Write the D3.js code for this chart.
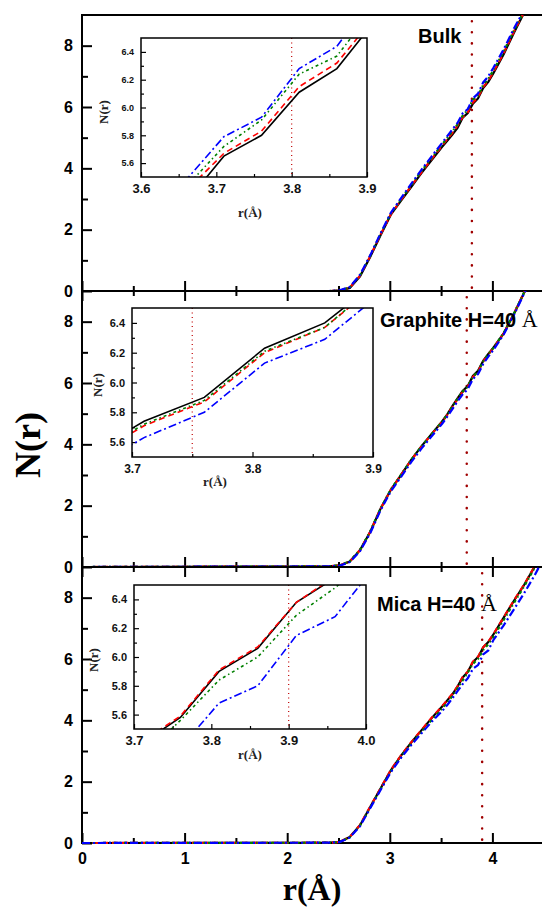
<!DOCTYPE html>
<html>
<head>
<meta charset="utf-8">
<script src="https://cdn.jsdelivr.net/npm/d3@7"></script>
<style>
body { margin: 0; background: #fff; }
svg { display: block; }
</style>
</head>
<body>
<div id="chart"></div>
<script>
let width = 542;
let height = 908;

// r grid shared by all curves (finer where the insets zoom in)
const rVals = [0, 2.41, 2.51, 2.61, 2.71, 2.81, 2.91, 3.01, 3.11, 3.21, 3.31, 3.41, 3.51, 3.56, 3.61,
  3.66, 3.71, 3.76, 3.81, 3.86, 3.91, 3.96, 4.01, 4.11, 4.21, 4.31, 4.41, 4.51];

const bulkSolid    = [0, 0, 0.01, 0.10, 0.48, 1.12, 1.82, 2.49, 2.95, 3.40, 3.85, 4.28, 4.70, 4.90, 5.10, 5.32, 5.65, 5.80, 6.11, 6.28, 6.62, 6.82, 7.10, 7.72, 8.42, 9.08, 9.70, 10.3];
const bulkDash     = [0, 0, 0.01, 0.11, 0.50, 1.14, 1.84, 2.50, 2.97, 3.43, 3.88, 4.31, 4.74, 4.95, 5.16, 5.40, 5.67, 5.83, 6.15, 6.32, 6.65, 6.86, 7.14, 7.76, 8.46, 9.10, 9.72, 10.3];
const bulkDot      = [0, 0, 0.01, 0.12, 0.51, 1.15, 1.86, 2.52, 3.00, 3.46, 3.92, 4.35, 4.78, 4.99, 5.21, 5.43, 5.72, 5.91, 6.24, 6.37, 6.72, 6.92, 7.20, 7.81, 8.50, 9.13, 9.74, 10.3];
const bulkDashDot  = [0, 0, 0.02, 0.13, 0.53, 1.17, 1.88, 2.55, 3.03, 3.50, 3.96, 4.40, 4.83, 5.05, 5.27, 5.48, 5.79, 5.93, 6.28, 6.44, 6.80, 7.00, 7.28, 7.88, 8.56, 9.17, 9.76, 10.3];

const graphiteSolid   = [0, 0.02, 0.05, 0.18, 0.55, 1.15, 1.90, 2.52, 3.00, 3.50, 3.94, 4.35, 4.75, 4.98, 5.25, 5.50, 5.74, 5.90, 6.23, 6.40, 6.72, 6.95, 7.15, 7.62, 8.25, 8.95, 9.60, 10.2];
const graphiteDash    = [0, 0.02, 0.05, 0.18, 0.56, 1.16, 1.90, 2.52, 3.00, 3.49, 3.93, 4.34, 4.73, 4.96, 5.22, 5.47, 5.71, 5.87, 6.20, 6.37, 6.70, 6.93, 7.14, 7.62, 8.26, 8.96, 9.60, 10.2];
const graphiteDot     = [0, 0.02, 0.05, 0.19, 0.56, 1.17, 1.91, 2.53, 3.01, 3.50, 3.94, 4.34, 4.74, 4.97, 5.23, 5.48, 5.72, 5.88, 6.21, 6.37, 6.71, 6.94, 7.15, 7.63, 8.27, 8.96, 9.60, 10.2];
const graphiteDashDot = [0, 0.02, 0.04, 0.16, 0.52, 1.11, 1.85, 2.47, 2.94, 3.43, 3.87, 4.27, 4.67, 4.90, 5.15, 5.40, 5.63, 5.80, 6.13, 6.29, 6.62, 6.86, 7.08, 7.58, 8.22, 8.92, 9.58, 10.2];

const micaSolid   = [0, 0.01, 0.03, 0.20, 0.58, 1.18, 1.78, 2.37, 2.85, 3.28, 3.68, 4.08, 4.45, 4.65, 4.85, 5.10, 5.40, 5.58, 5.90, 6.06, 6.38, 6.55, 6.80, 7.35, 7.90, 8.42, 9.00, 9.60];
const micaDash    = [0, 0.01, 0.03, 0.20, 0.59, 1.19, 1.79, 2.38, 2.86, 3.29, 3.69, 4.09, 4.46, 4.66, 4.86, 5.11, 5.41, 5.59, 5.91, 6.07, 6.38, 6.56, 6.81, 7.36, 7.91, 8.43, 9.01, 9.60];
const micaDot     = [0, 0.01, 0.03, 0.19, 0.57, 1.16, 1.76, 2.34, 2.82, 3.24, 3.63, 4.02, 4.38, 4.58, 4.79, 5.04, 5.30, 5.56, 5.84, 6.00, 6.29, 6.48, 6.72, 7.27, 7.83, 8.37, 8.96, 9.58];
const micaDashDot = [0, 0.01, 0.03, 0.18, 0.55, 1.14, 1.73, 2.31, 2.78, 3.20, 3.58, 3.96, 4.30, 4.50, 4.72, 4.95, 5.18, 5.37, 5.68, 5.80, 6.15, 6.28, 6.62, 7.10, 7.62, 8.15, 8.72, 9.35];

const panelNames = ["Bulk", "Graphite H=40 ", "Mica H=40 "];
const cutoffs = [3.8, 3.75, 3.9];
const xTicks = [0, 1, 2, 3, 4];
const xMinor = [0.5, 1.5, 2.5, 3.5];
const yTicks = [0, 2, 4, 6, 8];
const yMinor = [1, 3, 5, 7];
const insetXTicks = [[3.6, 3.7, 3.8, 3.9], [3.7, 3.8, 3.9], [3.7, 3.8, 3.9, 4.0]];
const insetYTicks = [5.6, 5.8, 6.0, 6.2, 6.4];
const insetYMinor = [5.7, 5.9, 6.1, 6.3];

const panelData = [
  [bulkSolid, bulkDash, bulkDot, bulkDashDot],
  [graphiteSolid, graphiteDash, graphiteDot, graphiteDashDot],
  [micaSolid, micaDash, micaDot, micaDashDot]
];

// styles for the four curves: solid black, dashed red, short dash-dot green, dash-dot blue
const lineStyles = [
  {color: "#000000", dash: null},
  {color: "#ff0000", dash: "6,4"},
  {color: "#008000", dash: "3,3,1.5,3"},
  {color: "#0000ff", dash: "8,3,2,3"}
];

const panelTops = [15, 291, 567];
const panelH = 276;
const left = 82;

// layout of the insets and their labels
const insets = [
  {x0: 141, x1: 367, y0: 38, y1: 177, xDomain: [3.6, 3.9], yFont: 9, xFont: 13, nx: 108, ny: 112, rx: 250, ry: 217},
  {x0: 132, x1: 373, y0: 308, y1: 457, xDomain: [3.7, 3.9], yFont: 11, xFont: 12, nx: 102, ny: 385, rx: 215, ry: 486},
  {x0: 134, x1: 366, y0: 585, y1: 729, xDomain: [3.7, 4.0], yFont: 11, xFont: 13, nx: 98, ny: 660, rx: 250, ry: 759}
];
const labelPos = [{x: 418, y: 43}, {x: 380, y: 327}, {x: 377, y: 611}];

const svg = d3.select("#chart").append("svg")
    .attr("width", width)
    .attr("height", height)
    .attr("viewBox", [0, 0, width, height]);

const defs = svg.append("defs");

let x = d3.scaleLinear().domain([0, 4.5]).range([left, left + 4.5 * 102.6]);

const sans = "'Liberation Sans', Arial, sans-serif";
const serif = "'Liberation Serif', 'Times New Roman', serif";

panelData.forEach((series, p) => {
  const top = panelTops[p];
  const bottom = top + panelH;
  let y = d3.scaleLinear().domain([0, 9]).range([bottom, top]);
  const g = svg.append("g");

  defs.append("clipPath").attr("id", "clip" + p)
    .append("rect")
    .attr("x", left).attr("y", top)
    .attr("width", width - left).attr("height", panelH + 3);

  // bottom axis (ticks pointing up)
  const xAx = g.append("g").attr("transform", `translate(0,${bottom})`)
      .call(d3.axisBottom(x).tickValues(xTicks).tickSize(-10).tickPadding(10)
        .tickFormat(p === 2 ? d3.format("d") : () => ""));
  xAx.select(".domain").remove();
  g.append("g").attr("transform", `translate(0,${bottom})`)
      .call(d3.axisBottom(x).tickValues(xMinor).tickSize(-5).tickFormat(() => ""))
      .select(".domain").remove();

  // top axis ticks for the lower panels (pointing down)
  if (p > 0) {
    g.append("g").attr("transform", `translate(0,${top})`)
        .call(d3.axisTop(x).tickValues(xTicks).tickSize(-10).tickFormat(() => ""))
        .select(".domain").remove();
    g.append("g").attr("transform", `translate(0,${top})`)
        .call(d3.axisTop(x).tickValues(xMinor).tickSize(-5).tickFormat(() => ""))
        .select(".domain").remove();
  }

  const yAx = g.append("g").attr("transform", `translate(${left},0)`)
      .call(d3.axisLeft(y).tickValues(yTicks).tickSize(-10).tickPadding(9).tickFormat(d3.format("d")));
  yAx.select(".domain").remove();
  g.append("g").attr("transform", `translate(${left},0)`)
      .call(d3.axisLeft(y).tickValues(yMinor).tickSize(-6).tickFormat(() => ""))
      .select(".domain").remove();

  g.selectAll(".tick line").attr("stroke", "#000").attr("stroke-width", 2);
  g.selectAll(".tick text")
      .attr("font-family", sans).attr("font-weight", "bold")
      .attr("font-size", 16).attr("fill", "#000");

  // frame lines
  g.append("line").attr("x1", left).attr("x2", width).attr("y1", bottom).attr("y2", bottom)
      .attr("stroke", "#000").attr("stroke-width", 2);
  g.append("line").attr("x1", left).attr("x2", width).attr("y1", top).attr("y2", top)
      .attr("stroke", "#000").attr("stroke-width", 2);
  g.append("line").attr("x1", left).attr("x2", left).attr("y1", top - 1).attr("y2", bottom + 1)
      .attr("stroke", "#000").attr("stroke-width", 2);

  // cut-off line
  g.append("line")
      .attr("x1", x(cutoffs[p])).attr("x2", x(cutoffs[p]))
      .attr("y1", y(8.8)).attr("y2", y(0))
      .attr("stroke", "#a00000").attr("stroke-width", 2.5)
      .attr("stroke-linecap", "round")
      .attr("stroke-dasharray", "0.1,11");

  const line = d3.line().x((d, i) => x(rVals[i])).y(d => y(d));
  const curves = g.append("g").attr("clip-path", `url(#clip${p})`);
  series.forEach((vals, s) => {
    curves.append("path")
        .datum(vals)
        .attr("d", line)
        .attr("fill", "none")
        .attr("stroke", lineStyles[s].color)
        .attr("stroke-width", 2.2)
        .attr("stroke-dasharray", lineStyles[s].dash);
  });

  // panel label
  const lab = g.append("text")
      .attr("x", labelPos[p].x).attr("y", labelPos[p].y)
      .attr("font-family", sans).attr("font-weight", "bold")
      .attr("font-size", 20).attr("fill", "#000")
      .text(panelNames[p]);
  if (p > 0) {
    lab.append("tspan").attr("font-family", serif).attr("font-weight", "normal")
        .attr("font-size", 22).text("Å");
  }

  drawInset(g, insets[p], series, insetXTicks[p], cutoffs[p], p);
});

function drawInset(g, cfg, series, ticks, cut, p) {
  const ix = d3.scaleLinear().domain(cfg.xDomain).range([cfg.x0, cfg.x1]);
  const iy = d3.scaleLinear().domain([5.5, 6.5]).range([cfg.y1, cfg.y0]);
  const ig = g.append("g");

  ig.append("rect")
      .attr("x", cfg.x0).attr("y", cfg.y0)
      .attr("width", cfg.x1 - cfg.x0).attr("height", cfg.y1 - cfg.y0)
      .attr("fill", "#fff");

  defs.append("clipPath").attr("id", "iclip" + p)
    .append("rect")
    .attr("x", cfg.x0).attr("y", cfg.y0)
    .attr("width", cfg.x1 - cfg.x0).attr("height", cfg.y1 - cfg.y0);

  const minor = ticks.slice(1).map((t, i) => (t + ticks[i]) / 2);

  const bx = ig.append("g").attr("transform", `translate(0,${cfg.y1})`)
      .call(d3.axisBottom(ix).tickValues(ticks).tickSize(-5).tickPadding(7).tickFormat(d3.format(".1f")));
  bx.selectAll("text").attr("font-size", cfg.xFont);
  ig.append("g").attr("transform", `translate(0,${cfg.y1})`)
      .call(d3.axisBottom(ix).tickValues(minor).tickSize(-3).tickFormat(() => ""));
  const ly = ig.append("g").attr("transform", `translate(${cfg.x0},0)`)
      .call(d3.axisLeft(iy).tickValues(insetYTicks).tickSize(-5).tickPadding(7).tickFormat(d3.format(".1f")));
  ly.selectAll("text").attr("font-size", cfg.yFont);
  ig.append("g").attr("transform", `translate(${cfg.x0},0)`)
      .call(d3.axisLeft(iy).tickValues(insetYMinor).tickSize(-3).tickFormat(() => ""));
  ig.selectAll(".domain").remove();
  ig.selectAll(".tick line").attr("stroke", "#000").attr("stroke-width", 1.2);
  ig.selectAll(".tick text").attr("font-family", sans).attr("font-weight", "bold").attr("fill", "#111");

  const cg = ig.append("g").attr("clip-path", `url(#iclip${p})`);
  cg.append("line")
      .attr("x1", ix(cut)).attr("x2", ix(cut))
      .attr("y1", cfg.y0).attr("y2", cfg.y1)
      .attr("stroke", "#c00000").attr("stroke-width", 1.2)
      .attr("stroke-dasharray", "1,3.5");

  const line = d3.line().x((d, i) => ix(rVals[i])).y(d => iy(d));
  series.forEach((vals, s) => {
    cg.append("path")
        .datum(vals)
        .attr("d", line)
        .attr("fill", "none")
        .attr("stroke", lineStyles[s].color)
        .attr("stroke-width", 1.6)
        .attr("stroke-dasharray", lineStyles[s].dash);
  });

  ig.append("rect")
      .attr("x", cfg.x0).attr("y", cfg.y0)
      .attr("width", cfg.x1 - cfg.x0).attr("height", cfg.y1 - cfg.y0)
      .attr("fill", "none").attr("stroke", "#000").attr("stroke-width", 1.5);

  ig.append("text")
      .attr("transform", `translate(${cfg.nx},${cfg.ny}) rotate(-90)`)
      .attr("text-anchor", "middle")
      .attr("font-family", serif).attr("font-weight", "bold")
      .attr("font-size", 13).attr("fill", "#222")
      .text("N(r)");
  ig.append("text")
      .attr("x", cfg.rx).attr("y", cfg.ry)
      .attr("text-anchor", "middle")
      .attr("font-family", serif).attr("font-weight", "bold")
      .attr("font-size", 13).attr("fill", "#222")
      .text("r(Å)");
}

// axis titles
svg.append("text")
    .attr("transform", "translate(40,445) rotate(-90)")
    .attr("text-anchor", "middle")
    .attr("font-family", serif).attr("font-weight", "bold")
    .attr("font-size", 36)
    .text("N(r)");
svg.append("text")
    .attr("x", 312).attr("y", 900)
    .attr("text-anchor", "middle")
    .attr("font-family", serif).attr("font-weight", "bold")
    .attr("font-size", 32)
    .text("r(Å)");
</script>
</body>
</html>
